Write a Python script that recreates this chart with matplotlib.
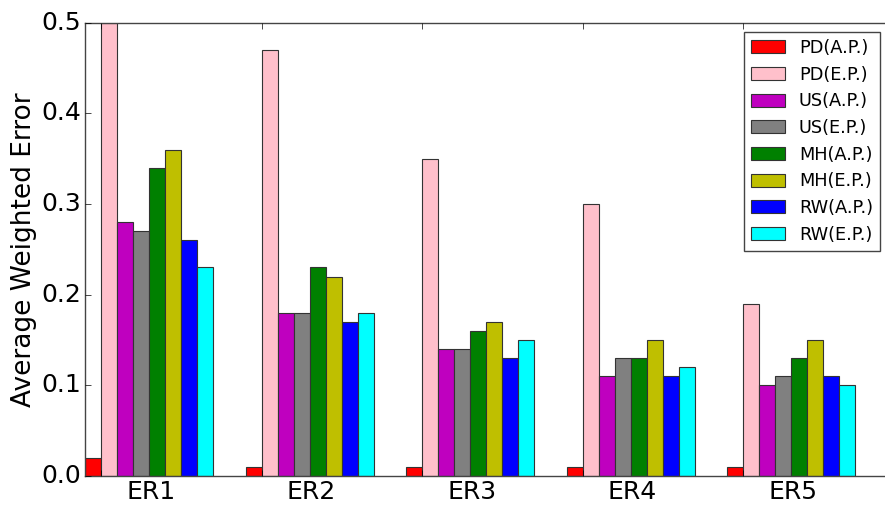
import matplotlib
matplotlib.use("Agg")
import matplotlib.pyplot as plt
import numpy as np

plt.style.use("classic")

groups = ["ER1", "ER2", "ER3", "ER4", "ER5"]
series_names = ["PD(A.P.)", "PD(E.P.)", "US(A.P.)", "US(E.P.)",
                "MH(A.P.)", "MH(E.P.)", "RW(A.P.)", "RW(E.P.)"]
pd_ap = [0.02, 0.01, 0.01, 0.01, 0.01]
pd_ep = [0.50, 0.47, 0.35, 0.30, 0.19]
us_ap = [0.28, 0.18, 0.14, 0.11, 0.10]
us_ep = [0.27, 0.18, 0.14, 0.13, 0.11]
mh_ap = [0.34, 0.23, 0.16, 0.13, 0.13]
mh_ep = [0.36, 0.22, 0.17, 0.15, 0.15]
rw_ap = [0.26, 0.17, 0.13, 0.11, 0.11]
rw_ep = [0.23, 0.18, 0.15, 0.12, 0.10]
series = [pd_ap, pd_ep, us_ap, us_ep, mh_ap, mh_ep, rw_ap, rw_ep]
colors = ["r", "pink", "m", "gray", "g", "y", "b", "cyan"]

fig = plt.figure(figsize=(8.85, 5.05), dpi=100, facecolor="white")
W, H = 885.0, 505.0
xmax = 5.06
left_px, top_px, bot_px = 85.0, 22.7, 476.0
right_px = left_px + 160.5 * xmax
ax = fig.add_axes([left_px / W, (H - bot_px) / H, (right_px - left_px) / W,
                   (bot_px - top_px) / H])

ind = np.arange(len(groups))
width = 0.1
for k, (vals, c, name) in enumerate(zip(series, colors, series_names)):
    ax.bar(ind + k * width, vals, width, color=c, edgecolor="#333333",
           linewidth=0.8, align="edge", label=name)

ax.set_xlim(0, xmax)
ax.set_ylim(0, 0.5)
ax.set_yticks([0.0, 0.1, 0.2, 0.3, 0.4, 0.5])
ax.set_yticklabels(["0.0", "0.1", "0.2", "0.3", "0.4", "0.5"])
ax.set_xticks(ind + width)
ax.set_xticklabels([""] * len(groups))
ax.set_xticks(ind + 0.41, minor=True)
ax.set_xticklabels(groups, minor=True)
ax.tick_params(axis="x", which="minor", length=0, labelsize=18, pad=3)
ax.tick_params(axis="x", which="major", length=4)
ax.tick_params(axis="y", labelsize=18, pad=3)
ax.set_ylabel("Average Weighted Error", fontsize=19, labelpad=3)

for sp in ax.spines.values():
    sp.set_color("#444444")

leg = ax.legend(loc="upper right", fontsize=12.8, borderaxespad=0.0,
                bbox_to_anchor=((880 - left_px) / (right_px - left_px),
                                (bot_px - 31.7) / (bot_px - top_px)),
                labelspacing=0.49, handlelength=1.95, handleheight=0.75,
                handletextpad=0.75, fancybox=False)
leg.get_frame().set_edgecolor("#444444")

fig.savefig("out.png", dpi=100, facecolor="white")
